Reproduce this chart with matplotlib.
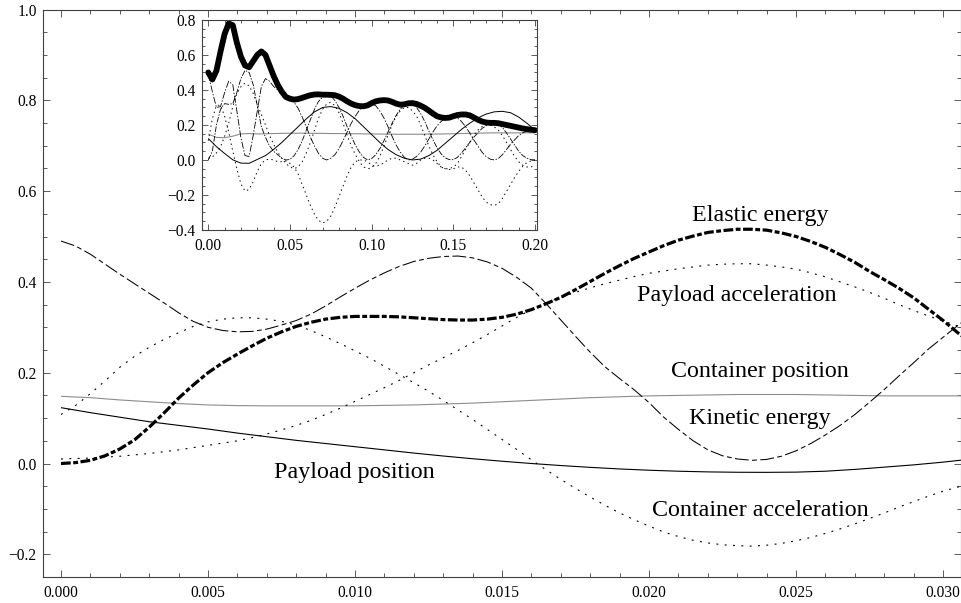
import numpy as np
import matplotlib
matplotlib.use('Agg')
from matplotlib import pyplot as plt
from matplotlib.ticker import MultipleLocator, FuncFormatter

# ---- main plot: first 0.03 s ----
# energies and accelerations sampled every 0.5 ms
main_t = np.append(np.arange(62) * 0.0005, 0.0307)
elastic = [0.0, 0.002, 0.007, 0.017, 0.032, 0.052, 0.08, 0.111, 0.144, 0.173,
           0.2, 0.222, 0.241, 0.259, 0.276, 0.29, 0.302, 0.311, 0.318, 0.322,
           0.324, 0.324, 0.324, 0.323, 0.321, 0.319, 0.317, 0.316, 0.316, 0.318,
           0.322, 0.329, 0.339, 0.352, 0.366, 0.383, 0.401, 0.419, 0.436, 0.452,
           0.466, 0.48, 0.492, 0.501, 0.509, 0.513, 0.516, 0.516, 0.514, 0.508,
           0.5, 0.489, 0.476, 0.46, 0.443, 0.423, 0.405, 0.386, 0.365, 0.34,
           0.315, 0.288, 0.278]
kinetic = [0.49, 0.479, 0.461, 0.439, 0.417, 0.396, 0.375, 0.354, 0.332, 0.313,
           0.3, 0.293, 0.29, 0.291, 0.296, 0.305, 0.315, 0.329, 0.347, 0.367,
           0.386, 0.404, 0.42, 0.434, 0.445, 0.452, 0.456, 0.457, 0.453, 0.444,
           0.43, 0.41, 0.386, 0.352, 0.316, 0.28, 0.245, 0.213, 0.187, 0.162,
           0.134, 0.102, 0.075, 0.05, 0.03, 0.017, 0.01, 0.007, 0.009, 0.016,
           0.028, 0.044, 0.063, 0.084, 0.108, 0.135, 0.163, 0.193, 0.222, 0.252,
           0.278, 0.304, 0.314]
payload_acc = [0.01, 0.011, 0.012, 0.014, 0.016, 0.019, 0.022, 0.026, 0.03, 0.035,
               0.04, 0.045, 0.05, 0.057, 0.065, 0.074, 0.084, 0.095, 0.108, 0.122,
               0.137, 0.152, 0.167, 0.183, 0.2, 0.217, 0.233, 0.249, 0.266, 0.284,
               0.303, 0.322, 0.339, 0.354, 0.366, 0.377, 0.387, 0.396, 0.404, 0.412,
               0.419, 0.424, 0.429, 0.433, 0.437, 0.439, 0.44, 0.44, 0.437, 0.433,
               0.428, 0.42, 0.411, 0.4, 0.389, 0.377, 0.364, 0.35, 0.337, 0.325,
               0.314, 0.303, 0.298]
container_acc = [0.108, 0.128, 0.154, 0.182, 0.212, 0.236, 0.256, 0.273, 0.288, 0.302,
                 0.312, 0.318, 0.321, 0.321, 0.318, 0.313, 0.305, 0.293, 0.279, 0.264,
                 0.248, 0.232, 0.214, 0.196, 0.178, 0.159, 0.139, 0.118, 0.097, 0.075,
                 0.053, 0.031, 0.008, -0.014, -0.035, -0.055, -0.074, -0.092, -0.109, -0.124,
                 -0.138, -0.151, -0.161, -0.169, -0.175, -0.179, -0.181, -0.182, -0.18, -0.176,
                 -0.17, -0.163, -0.154, -0.144, -0.133, -0.121, -0.109, -0.096, -0.084, -0.072,
                 -0.061, -0.052, -0.048]
# positions change slowly, 1 ms is enough
pos_t = np.append(np.arange(31) * 0.001, 0.0307)
payload_pos = [0.123, 0.112, 0.102, 0.092, 0.084, 0.076, 0.067, 0.059, 0.051, 0.044, 0.037,
               0.03, 0.023, 0.0165, 0.0105, 0.005, 0.0, -0.0045, -0.0085, -0.012, -0.0148,
               -0.017, -0.0185, -0.0193, -0.0195, -0.019, -0.017, -0.013, -0.008, -0.003, 0.003, 0.008]
container_pos = [0.148, 0.145, 0.14, 0.136, 0.132, 0.129, 0.1275, 0.127, 0.127, 0.127, 0.127,
                 0.128, 0.129, 0.131, 0.133, 0.136, 0.139, 0.142, 0.145, 0.147, 0.149,
                 0.15, 0.151, 0.152, 0.152, 0.152, 0.151, 0.15, 0.149, 0.149, 0.149, 0.149]

# ---- inset: 0 .. 0.2 s ----
inset_t = np.arange(81) * 0.0025
inset_total = [0.50, 0.46, 0.51, 0.62, 0.72, 0.78, 0.77, 0.67, 0.59, 0.54, 0.53, 0.565, 0.60,
               0.62, 0.60, 0.54, 0.48, 0.43, 0.39, 0.36, 0.35,
               0.345, 0.348, 0.355, 0.363, 0.37, 0.374, 0.375, 0.373, 0.373,
               0.372, 0.37, 0.362, 0.35, 0.335, 0.322, 0.313, 0.308, 0.307, 0.312,
               0.325, 0.335, 0.34, 0.342, 0.34, 0.332, 0.322, 0.316, 0.318, 0.324, 0.325,
               0.32, 0.31, 0.298, 0.282, 0.265, 0.25, 0.243, 0.24, 0.242, 0.25,
               0.257, 0.26, 0.26, 0.255, 0.243, 0.23, 0.22, 0.214, 0.212, 0.212,
               0.21, 0.205, 0.2, 0.195, 0.19, 0.185, 0.18, 0.176, 0.173, 0.17]
inset_kinetic = [0.49, 0.39, 0.30, 0.305, 0.385, 0.45, 0.43, 0.28, 0.125, 0.025, 0.02, 0.14, 0.28,
                 0.42, 0.465, 0.45, 0.42, 0.40, 0.38, 0.36, 0.35,
                 0.33, 0.295, 0.245, 0.19, 0.13, 0.08, 0.037, 0.01, 0.0,
                 0.01, 0.03, 0.065, 0.11, 0.16, 0.21, 0.25, 0.285, 0.305, 0.31,
                 0.32, 0.31, 0.28, 0.24, 0.19, 0.135, 0.085, 0.045, 0.015, 0.0, 0.005,
                 0.02, 0.045, 0.08, 0.12, 0.16, 0.195, 0.22, 0.237, 0.245, 0.248,
                 0.24, 0.22, 0.19, 0.155, 0.115, 0.08, 0.045, 0.02, 0.005, 0.0,
                 0.008, 0.03, 0.06, 0.09, 0.115, 0.14, 0.155, 0.165, 0.17, 0.172]
inset_elastic = [0.0, 0.05, 0.2, 0.29, 0.322, 0.318, 0.322, 0.385, 0.466, 0.512, 0.5, 0.43, 0.31,
                 0.19, 0.13, 0.08, 0.05, 0.03, 0.01, 0.0, 0.003,
                 0.024, 0.06, 0.11, 0.17, 0.23, 0.29, 0.335, 0.36, 0.373,
                 0.365, 0.34, 0.30, 0.25, 0.19, 0.135, 0.085, 0.045, 0.015, 0.0,
                 0.008, 0.03, 0.065, 0.11, 0.16, 0.21, 0.255, 0.29, 0.315, 0.324, 0.32,
                 0.30, 0.265, 0.22, 0.165, 0.115, 0.07, 0.035, 0.012, 0.002, 0.002,
                 0.015, 0.04, 0.07, 0.10, 0.13, 0.155, 0.18, 0.195, 0.207, 0.212,
                 0.205, 0.185, 0.155, 0.12, 0.085, 0.05, 0.025, 0.01, 0.002, 0.0]
inset_payload_acc = [0.01, 0.017, 0.04, 0.075, 0.135, 0.21, 0.305, 0.378, 0.419, 0.439, 0.424, 0.38, 0.318,
                     0.26, 0.2, 0.14, 0.09, 0.045, 0.01, -0.02, -0.04,
                     -0.05, -0.04, -0.01, 0.04, 0.1, 0.17, 0.24, 0.29, 0.32,
                     0.33, 0.31, 0.27, 0.21, 0.14, 0.08, 0.03, -0.01, -0.04, -0.05,
                     -0.045, -0.02, 0.02, 0.08, 0.14, 0.2, 0.25, 0.28, 0.3, 0.3, 0.28,
                     0.25, 0.2, 0.14, 0.08, 0.03, -0.01, -0.04, -0.05, -0.05, -0.04,
                     -0.02, 0.02, 0.06, 0.1, 0.14, 0.17, 0.19, 0.2, 0.2, 0.19,
                     0.17, 0.14, 0.1, 0.06, 0.02, -0.01, -0.03, -0.04, -0.04, -0.03]
inset_container_acc = [0.11, 0.235, 0.312, 0.313, 0.25, 0.16, 0.05, -0.05, -0.138, -0.178, -0.168, -0.125, -0.065,
                       -0.02, 0.0, 0.005, 0.0, -0.01, -0.01, -0.005, -0.02,
                       -0.04, -0.08, -0.14, -0.2, -0.26, -0.31, -0.345, -0.36, -0.35,
                       -0.32, -0.27, -0.21, -0.15, -0.09, -0.04, -0.01, 0.0, 0.0, -0.01,
                       -0.03, -0.035, -0.03, -0.015, 0.0, 0.01, 0.01, 0.0, -0.01, -0.02, -0.03,
                       -0.02, 0.0, 0.01, 0.01, 0.0, -0.02, -0.04, -0.05, -0.055, -0.05,
                       -0.04, -0.04, -0.06, -0.09, -0.13, -0.17, -0.21, -0.24, -0.255, -0.26,
                       -0.25, -0.22, -0.18, -0.14, -0.1, -0.065, -0.035, -0.015, -0.005, 0.0]
inset_ts = np.arange(41) * 0.005
inset_payload_pos = [0.123, 0.076, 0.037, 0.001, -0.018, -0.019, 0.003, 0.025, 0.06, 0.1,
                     0.145, 0.19, 0.235, 0.275, 0.3, 0.305, 0.295, 0.27, 0.235, 0.19,
                     0.145, 0.1, 0.06, 0.03, 0.01, 0.0, 0.005, 0.025, 0.055, 0.095,
                     0.135, 0.175, 0.21, 0.24, 0.262, 0.275, 0.278, 0.27, 0.245, 0.21, 0.17]
inset_container_pos = [0.148, 0.129, 0.127, 0.136, 0.149, 0.151, 0.149, 0.15, 0.151, 0.152,
                       0.153, 0.153, 0.153, 0.152, 0.152, 0.151, 0.151, 0.15, 0.15, 0.149,
                       0.149, 0.148, 0.148, 0.147, 0.147, 0.147, 0.147, 0.148, 0.148, 0.149,
                       0.15, 0.151, 0.152, 0.153, 0.154, 0.155, 0.155, 0.155, 0.155, 0.155, 0.155]

plt.rcParams['font.family'] = 'Liberation Serif'
plt.rcParams['lines.scale_dashes'] = False
plt.rcParams['lines.solid_capstyle'] = 'butt'

GRAY = '#8c8c8c'


def decimals(n):
    def f(v, pos):
        if abs(v) < 1e-12:
            v = 0.0
        return f'{v:.{n}f}'.replace('-', '\u2212')
    return FuncFormatter(f)


def frame(ax, xmaj, xmin, ymaj, ymin, xdec, ydec, major_len, minor_len):
    ax.xaxis.set_major_locator(MultipleLocator(xmaj))
    ax.xaxis.set_minor_locator(MultipleLocator(xmin))
    ax.yaxis.set_major_locator(MultipleLocator(ymaj))
    ax.yaxis.set_minor_locator(MultipleLocator(ymin))
    ax.xaxis.set_major_formatter(decimals(xdec))
    ax.yaxis.set_major_formatter(decimals(ydec))
    ax.tick_params(which='both', direction='in', top=True, right=True,
                   width=0.6, color='0.25', labelsize=11.2)
    ax.tick_params(which='major', length=major_len)
    ax.tick_params(which='minor', length=minor_len)
    ax.tick_params(axis='x', pad=5.5)
    ax.tick_params(axis='y', pad=4.5)
    for s in ax.spines.values():
        s.set_linewidth(0.8)
        s.set_color('0.25')


fig = plt.figure(figsize=(9.62, 6.03), dpi=100)
ax = fig.add_axes([0.0447, 0.0426, 0.9543, 0.9416])

ax.plot(pos_t, container_pos, color=GRAY, lw=0.8)
ax.plot(pos_t, payload_pos, color='black', lw=0.8)
ax.plot(main_t, container_acc, color='black', lw=0.8, dashes=(1.4, 4.6))
ax.plot(main_t, payload_acc, color='black', lw=0.8, dashes=(1.4, 4.6))
ax.plot(main_t, kinetic, color='black', lw=0.75, dashes=(10, 2.4, 3.5, 2.4))
ax.plot(main_t, elastic, color='black', lw=2.3, dashes=(7, 1.8, 3.5, 1.8))

ax.set_xlim(-0.000612, 0.03061)
ax.set_ylim(-0.2507, 1.0)
frame(ax, 0.005, 0.001, 0.2, 0.05, 3, 1, 5, 3)

label_kw = dict(ha='center', va='baseline', fontsize=17.3)
ax.text(0.02378, 0.535, 'Elastic energy', **label_kw)
ax.text(0.02297, 0.358, 'Payload acceleration', **label_kw)
ax.text(0.02376, 0.190, 'Container position', **label_kw)
ax.text(0.02376, 0.088, 'Kinetic energy', **label_kw)
ax.text(0.00998, -0.032, 'Payload position', **label_kw)
ax.text(0.02378, -0.116, 'Container acceleration', **label_kw)

# inset with the longer time span
ins = fig.add_axes([0.2097, 0.6186, 0.3482, 0.3483])
ins.set_facecolor('white')
ins.plot(inset_ts, inset_container_pos, color=GRAY, lw=0.8)
ins.plot(inset_ts, inset_payload_pos, color='black', lw=0.7)
ins.plot(inset_t, inset_container_acc, color='black', lw=0.7, dashes=(1, 2.4))
ins.plot(inset_t, inset_payload_acc, color='black', lw=0.7, dashes=(1, 2.4))
ins.plot(inset_t, inset_kinetic, color='black', lw=0.6, dashes=(5, 1.2, 1, 1.2))
ins.plot(inset_t, inset_elastic, color='black', lw=0.6, dashes=(4, 1, 1, 1))
ins.plot(inset_t, inset_total, color='black', lw=4.2, solid_capstyle='round',
         solid_joinstyle='round')
ins.set_xlim(-0.004, 0.201)
ins.set_ylim(-0.4, 0.8)
frame(ins, 0.05, 0.01, 0.2, 0.05, 2, 1, 4.5, 2.5)

plt.savefig('out.png', dpi=100)
